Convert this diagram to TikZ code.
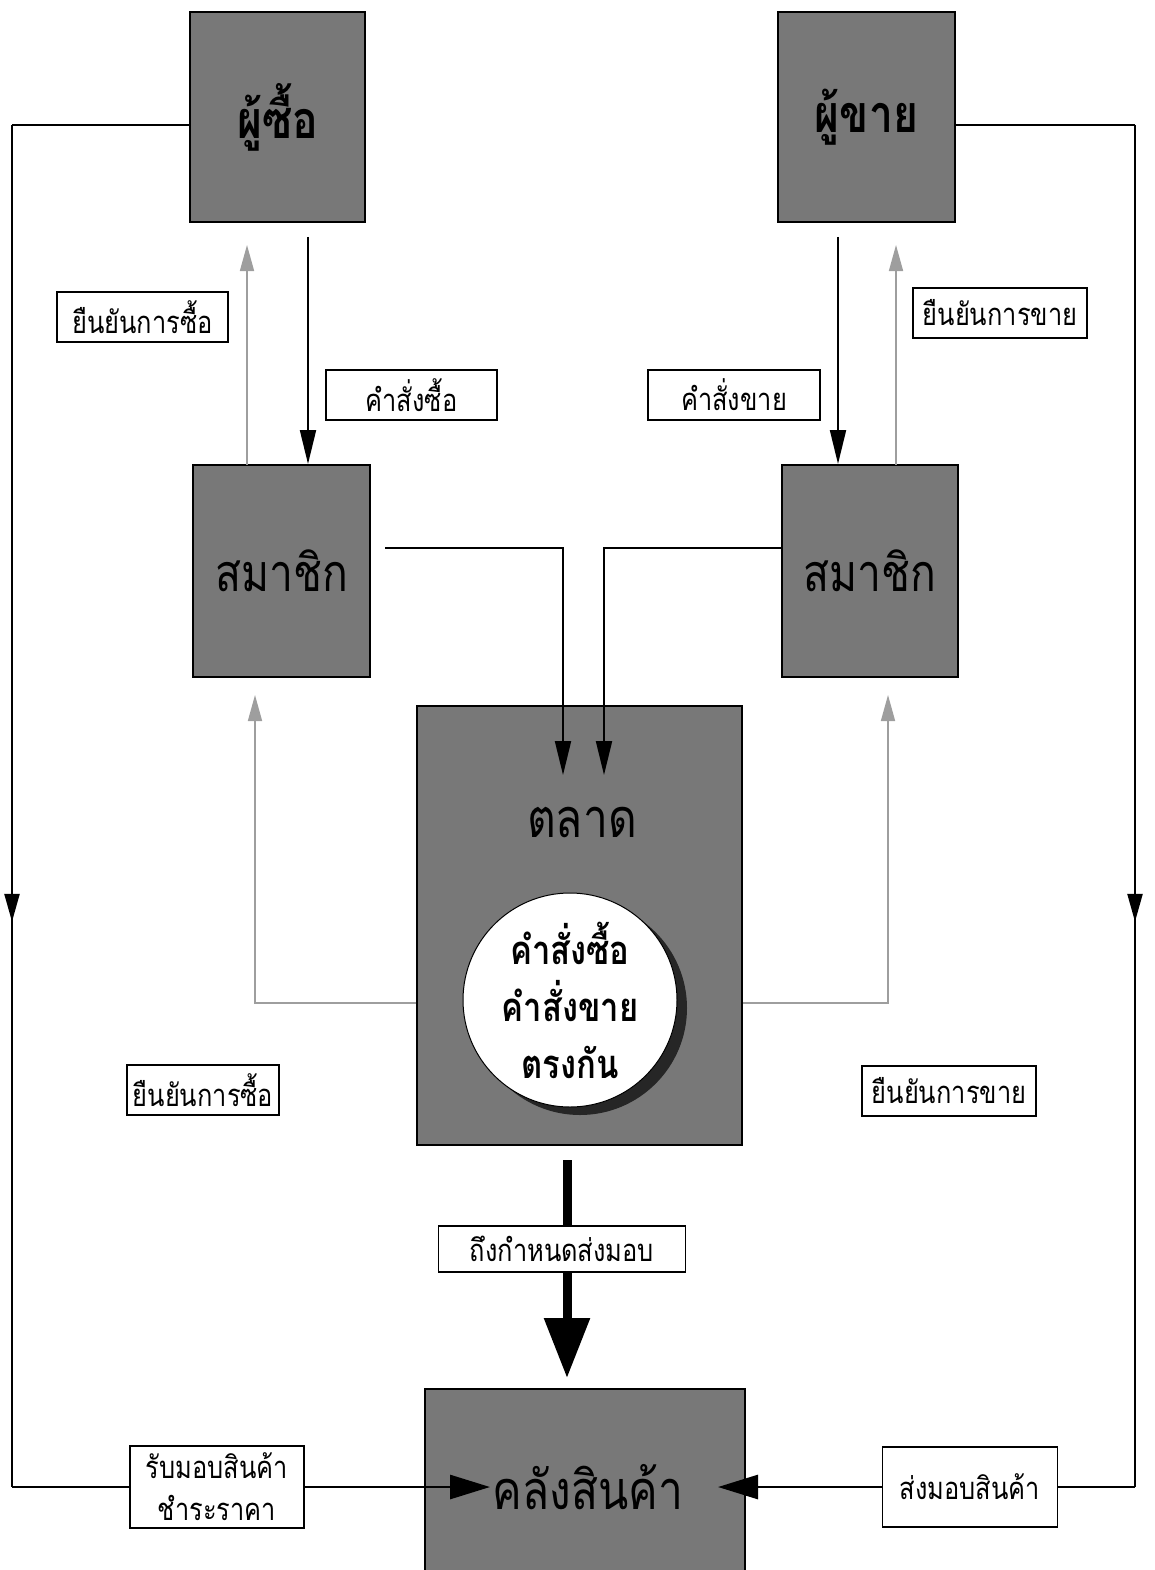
\documentclass[tikz,border=0pt]{standalone}
\usepackage{fontspec}
\newfontfamily\thai[Script=Thai,FakeStretch=0.82]{Loma}
\usetikzlibrary{arrows.meta,decorations.markings}
\begin{document}
\begin{tikzpicture}[x=1pt,y=-1pt,
  bigbox/.style={draw=black,line width=2pt,fill=black!53,inner sep=0pt,
    font=\thai\bfseries\fontsize{52}{56}\selectfont},
  lab/.style={draw=black,line width=1.6pt,fill=white,inner sep=0pt,
    minimum height=50pt,font=\thai\fontsize{31}{42}\selectfont,align=center},
  frame/.style={line width=2.4pt},
  blk/.style={line width=2pt,-{Triangle[length=34pt,width=16pt]}},
  gry/.style={line width=1.6pt,draw=black!38,-{Triangle[length=26pt,width=14pt,fill=black!38]}},
  midarrow/.style={postaction={decorate},decoration={markings,
    mark=at position #1 with {\arrow{Triangle[length=28pt,width=15pt]}}}},
  sidearrow/.style={line width=2.8pt,-{Triangle[length=40pt,width=24pt]}},
  thick/.style={line width=9pt},
]
\useasboundingbox (0,0) rectangle (1154,1570);

% main boxes
\node[bigbox,minimum width=175pt,minimum height=210pt] (buyer) at (277.5,117) {ผู้ซื้อ};
\node[bigbox,minimum width=177pt,minimum height=210pt] (seller) at (866.5,117) {ผู้ขาย};
\node[bigbox,minimum width=177pt,minimum height=212pt] (memL) at (281.5,571) {\mdseries สมาชิก};
\node[bigbox,minimum width=176pt,minimum height=212pt] (memR) at (870,571) {\mdseries สมาชิก};
\node[bigbox,minimum width=325pt,minimum height=439pt] (market) at (579.5,925.5) {};
\node[font=\thai\fontsize{54}{56}\selectfont] (marketT) at (582,822) {ตลาด};
\node[circle,fill=black!85,minimum size=214pt,inner sep=0pt] (shadow) at (580,1008) {};
\node[circle,draw=black,line width=1pt,fill=white,minimum size=214pt,inner sep=0pt,
  align=center,font=\thai\bfseries\fontsize{40}{57}\selectfont] (match) at (570,1000)
  {คำสั่งซื้อ\\คำสั่งขาย\\ตรงกัน};
\node[bigbox,minimum width=320pt,minimum height=212pt,anchor=north] (wh) at (585,1388) {};
\node[font=\thai\fontsize{54}{56}\selectfont] (whT) at (588,1487) {คลังสินค้า};

% labels
\node[lab,minimum width=171pt] (cfbTop) at (142.5,317) {ยืนยันการซื้อ};
\node[lab,minimum width=171pt] (ordB) at (411.5,395) {คำสั่งซื้อ};
\node[lab,minimum width=172pt] (ordS) at (734,395) {คำสั่งขาย};
\node[lab,minimum width=174pt] (cfsTop) at (1000,313) {ยืนยันการขาย};
\node[lab,minimum width=152pt] (cfbLow) at (203,1090) {ยืนยันการซื้อ};
\node[lab,minimum width=174pt] (cfsLow) at (949,1091) {ยืนยันการขาย};
\node[lab,minimum width=247pt,minimum height=46pt] (due) at (562,1249) {ถึงกำหนดส่งมอบ};
\node[lab,minimum width=174pt,minimum height=82pt] (recv) at (217,1487) {รับมอบสินค้า\\ชำระราคา};
\node[lab,minimum width=175pt,minimum height=80pt] (send) at (970,1487) {ส่งมอบสินค้า};

% coordinates
\coordinate (bL) at (190,125);
\coordinate (c1) at (12,125);
\coordinate (c2) at (12,1487);
\coordinate (sR) at (955,125);
\coordinate (c3) at (1135,125);
\coordinate (c4) at (1135,1487);
\coordinate (tipL) at (490,1487);
\coordinate (tipR) at (718,1487);

% outer frame
\draw[frame] (bL) -- (c1);
\draw[frame,midarrow=0.585] (c1) -- (c2);
\draw[frame] (c2) -- (recv.west);
\draw[sidearrow] (recv.east) -- (tipL);
\draw[frame] (sR) -- (c3);
\draw[frame,midarrow=0.585] (c3) -- (c4);
\draw[frame] (c4) -- (send.east);
\draw[sidearrow] (send.west) -- (tipR);

% orders down
\coordinate (bo1) at (308,237);
\coordinate (so1) at (838,237);
\draw[blk] (bo1) -- (bo1 |- memL.north);
\draw[blk] (so1) -- (so1 |- memR.north);

% confirmations up (top)
\coordinate (cb1) at (247,465);
\coordinate (cb2) at (247,245);
\coordinate (cs1) at (896,465);
\coordinate (cs2) at (896,245);
\draw[gry] (cb1) -- (cb2);
\draw[gry] (cs1) -- (cs2);

% members to market
\coordinate (mL) at (385,548);
\coordinate (mLt) at (563,775);
\coordinate (mR) at (782,548);
\coordinate (mRt) at (604,775);
\draw[blk] (mL) -| (mLt);
\draw[blk] (mR) -| (mRt);

% confirmations from market (low)
\coordinate (gL) at (255,695);
\coordinate (gR) at (888,695);
\draw[gry] (market.west |- 0,1003) -| (gL);
\draw[gry] (market.east |- 0,1003) -| (gR);

% delivery due
\coordinate (t1) at (567,1160);
\coordinate (t2) at (567,1378);
\draw[thick] (t1) -- (t1 |- due.north);
\draw[thick,-{Triangle[length=60pt,width=44pt]}] (t1 |- due.south) -- (t2);
\end{tikzpicture}
\end{document}
